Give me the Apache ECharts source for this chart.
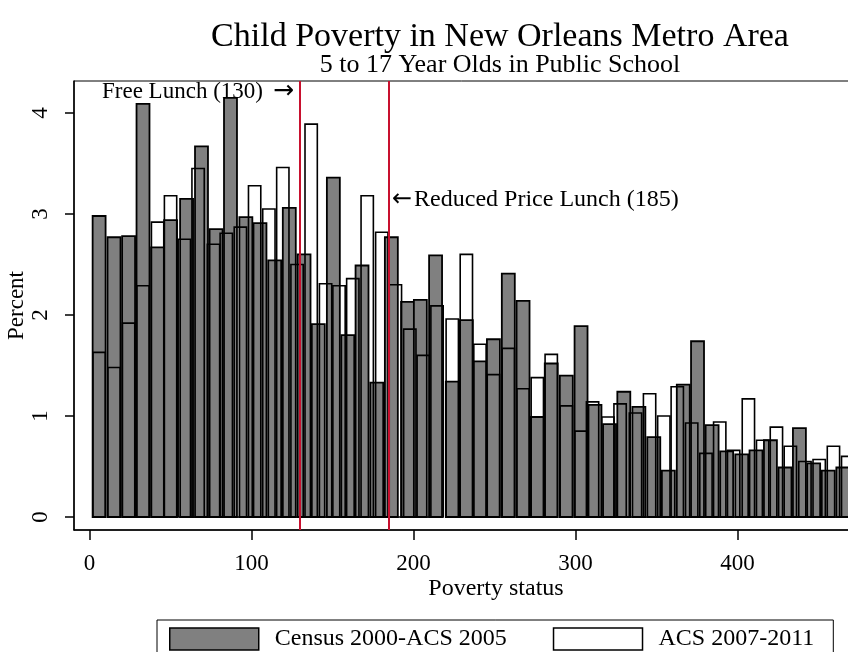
<!DOCTYPE html>
<html>
<head>
<meta charset="utf-8">
<script src="https://cdn.jsdelivr.net/npm/echarts@6/dist/echarts.min.js"></script>
<style>
  html, body { margin: 0; padding: 0; background: #fff; }
  #chart { width: 848px; height: 652px; }
</style>
</head>
<body>
<div id="chart"></div>
<script>
// Census 2000-ACS 2005 bars: bin centre (poverty status) and percent
const censusX = [5.9, 15.1, 24.1, 33.0, 42.0, 50.0, 59.9, 69.1, 78.1, 87.0,
  96.5, 105.2, 114.3, 123.3, 132.4, 141.2, 150.5, 159.4, 168.2, 177.3,
  186.3, 196.3, 204.2, 213.6, 223.9, 232.6, 241.0, 249.3, 258.5, 267.6,
  276.4, 285.0, 294.3, 303.4, 312.0, 321.0, 329.8, 339.1, 348.3, 357.3,
  366.5, 375.3, 384.3, 393.3, 402.6, 411.4, 420.3, 429.3, 438.2, 447.0,
  456.0, 465.0];
const censusPct = [2.98, 2.77, 2.78, 4.09, 2.67, 2.94, 3.15, 3.67, 2.85, 4.15,
  2.97, 2.91, 2.54, 3.06, 2.60, 1.91, 3.36, 1.80, 2.49, 1.33,
  2.77, 2.13, 2.15, 2.59, 1.34, 1.95, 1.54, 1.76, 2.41, 2.14,
  0.99, 1.52, 1.40, 1.89, 1.11, 0.92, 1.24, 1.09, 0.79, 0.46,
  1.31, 1.74, 0.91, 0.65, 0.62, 0.66, 0.76, 0.49, 0.88, 0.53,
  0.46, 0.49];

// ACS 2007-2011 bars
const acsX = [5.9, 15.1, 24.1, 33.0, 42.0, 50.0, 58.5, 67.0, 76.5, 84.4,
  93.1, 101.9, 110.7, 119.3, 128.1, 136.8, 145.7, 154.0, 162.5, 171.4,
  180.4, 188.8, 197.7, 206.0, 214.5, 223.9, 232.6, 241.0, 249.3, 258.5,
  267.6, 276.4, 285.0, 294.3, 303.4, 310.5, 320.0, 327.5, 337.0, 345.7,
  354.5, 362.8, 371.7, 380.5, 389.0, 397.6, 406.7, 415.5, 424.0, 432.6,
  441.6, 450.4, 459.2, 468.0];
const acsPct = [1.63, 1.48, 1.92, 2.29, 2.92, 3.18, 2.75, 3.45, 2.70, 2.81,
  2.87, 3.28, 3.05, 3.46, 2.50, 3.89, 2.31, 2.29, 2.36, 3.18,
  2.82, 2.30, 1.86, 1.60, 2.09, 1.96, 2.60, 1.71, 1.41, 1.67,
  1.27, 1.38, 1.61, 1.10, 0.85, 1.14, 0.99, 1.12, 1.03, 1.22,
  1.00, 1.29, 0.93, 0.63, 0.94, 0.66, 1.17, 0.76, 0.89, 0.70,
  0.55, 0.57, 0.70, 0.60];

const xTicks = [0, 100, 200, 300, 400];
const yTicks = [0, 1, 2, 3, 4];
const lunchCutoffs = [130, 185];

const FONT = 'Liberation Serif';
const chart = echarts.init(document.getElementById('chart'));

// draws one histogram bar from its centre and height, through the axes
function barRenderer(halfWidth, fill, lineWidth) {
  return function (params, api) {
    const x = api.value(0);
    const h = api.value(1);
    const p0 = api.coord([x - halfWidth, 0]);
    const p1 = api.coord([x + halfWidth, h]);
    return {
      type: 'rect',
      shape: { x: p0[0], y: p1[1], width: p1[0] - p0[0], height: p0[1] - p1[1] },
      style: { fill: fill, stroke: '#000', lineWidth: lineWidth }
    };
  };
}

const option = {
  backgroundColor: '#fff',
  animation: false,
  textStyle: { fontFamily: FONT, color: '#000' },
  title: [
    {
      text: 'Child Poverty in New Orleans Metro Area',
      left: 495, top: 15, textAlign: 'center',
      textStyle: { fontFamily: FONT, fontSize: 34, fontWeight: 'normal', color: '#000' }
    },
    {
      text: '5 to 17 Year Olds in Public School',
      left: 495, top: 47, textAlign: 'center',
      textStyle: { fontFamily: FONT, fontSize: 26, fontWeight: 'normal', color: '#000' }
    }
  ],
  grid: {
    left: 74, width: 844, top: 81, height: 449,
    outerBoundsMode: 'none',
    show: true, borderColor: '#000', borderWidth: 1, backgroundColor: '#fff'
  },
  xAxis: {
    type: 'value',
    min: -9.6, max: 511.4,
    name: 'Poverty status',
    nameLocation: 'middle',
    nameGap: 47,
    nameMoveOverlap: false,
    nameTextStyle: { fontFamily: FONT, fontSize: 24, color: '#000' },
    axisLine: { show: true, onZero: false, lineStyle: { color: '#000', width: 1.5 } },
    axisTick: { show: true, length: 10, customValues: xTicks, lineStyle: { color: '#000', width: 1.5 } },
    axisLabel: { customValues: xTicks, margin: 22, fontFamily: FONT, fontSize: 23, color: '#000' },
    splitLine: { show: false }
  },
  yAxis: {
    type: 'value',
    min: -0.1287, max: 4.3168,
    name: 'Percent',
    nameLocation: 'middle',
    nameGap: 46,
    nameMoveOverlap: false,
    nameTextStyle: { fontFamily: FONT, fontSize: 23, color: '#000' },
    axisLine: { show: true, onZero: false, lineStyle: { color: '#000', width: 1.5 } },
    axisTick: { show: true, length: 9, customValues: yTicks, lineStyle: { color: '#000', width: 1.5 } },
    axisLabel: { customValues: yTicks, rotate: 90, margin: 22, fontFamily: FONT, fontSize: 23, color: '#000' },
    splitLine: { show: false }
  },
  legend: {
    left: 157, top: 620,
    orient: 'horizontal',
    padding: [7, 19, 8, 12],
    itemGap: 46,
    itemWidth: 89, itemHeight: 22,
    borderColor: '#000', borderWidth: 1,
    textStyle: { fontFamily: FONT, fontSize: 24, color: '#000', padding: [0, 0, 0, 11] },
    data: [
      { name: 'Census 2000-ACS 2005', icon: 'rect',
        itemStyle: { color: '#808080', borderColor: '#000', borderWidth: 1.5 } },
      { name: 'ACS 2007-2011', icon: 'rect',
        itemStyle: { color: '#fff', borderColor: '#000', borderWidth: 1.5 } }
    ]
  },
  series: [
    {
      name: 'Census 2000-ACS 2005',
      type: 'custom',
      renderItem: barRenderer(4.0, '#808080', 1.8),
      encode: { x: 0, y: 1 },
      data: censusX.map((x, i) => [x, censusPct[i]]),
      z: 2
    },
    {
      name: 'ACS 2007-2011',
      type: 'custom',
      renderItem: barRenderer(3.8, 'none', 1.6),
      encode: { x: 0, y: 1 },
      data: acsX.map((x, i) => [x, acsPct[i]]),
      z: 3,
      markLine: {
        silent: true,
        symbol: 'none',
        label: { show: false },
        lineStyle: { color: '#c8102e', width: 2, type: 'solid' },
        data: lunchCutoffs.map(v => ({ xAxis: v }))
      }
    }
  ],
  graphic: [
    {
      type: 'text', left: 102, top: 79, z: 10,
      style: {
        text: '{t|Free Lunch (130)}{a|\u2192}',
        rich: {
          t: { fontFamily: FONT, fontSize: 23, fill: '#000' },
          a: { fontFamily: 'DejaVu Sans', fontSize: 25, fill: '#000', padding: [0, 0, 0, 10] }
        }
      }
    },
    {
      type: 'text', left: 392, top: 188, z: 10,
      style: {
        text: '{a|\u2190}{t|Reduced Price Lunch (185)}',
        rich: {
          t: { fontFamily: FONT, fontSize: 24, fill: '#000' },
          a: { fontFamily: 'DejaVu Sans', fontSize: 24, fill: '#000', padding: [0, 2, 0, 0] }
        }
      }
    }
  ]
};

chart.setOption(option);
</script>
</body>
</html>
